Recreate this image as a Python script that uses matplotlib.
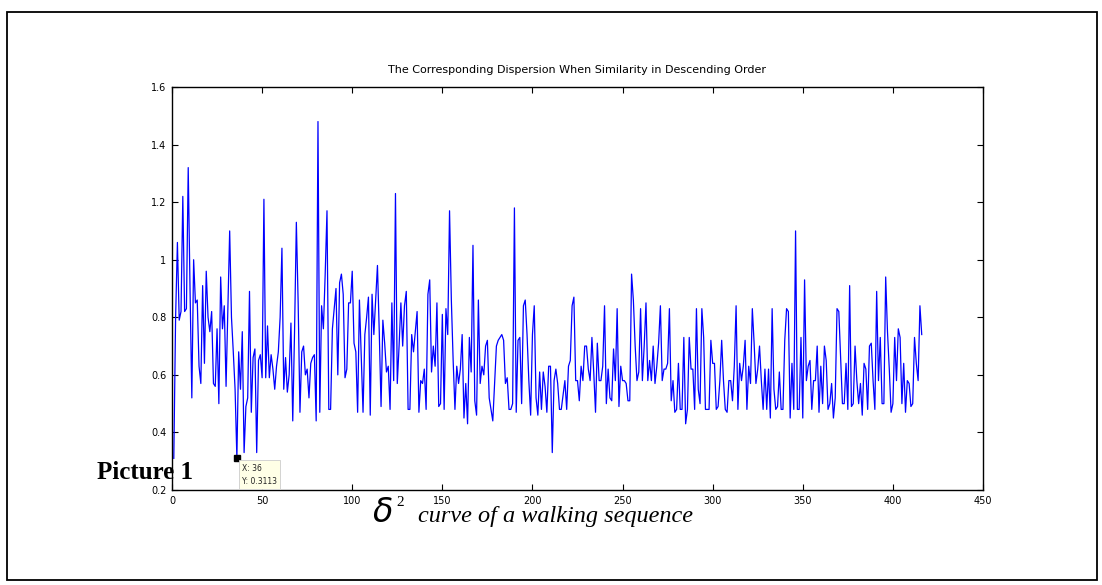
import numpy as np
import matplotlib
matplotlib.use("Agg")
import matplotlib.pyplot as plt
from matplotlib.patches import Rectangle

# dispersion values (index 1..416)
seg1 = [0.31, 0.80, 1.06, 0.79, 0.82, 1.22, 0.82, 0.83, 1.32, 0.90,
        0.52, 1.00, 0.85, 0.86, 0.63, 0.57, 0.91, 0.64, 0.96, 0.80,
        0.75, 0.82, 0.57, 0.56, 0.76, 0.50, 0.94, 0.76, 0.84, 0.56,
        0.83, 1.10, 0.80, 0.68, 0.55, 0.3113, 0.68, 0.55, 0.75, 0.33,
        0.49, 0.52, 0.89, 0.47, 0.66, 0.69, 0.33, 0.65, 0.67, 0.59, 1.21]
seg2 = [0.59, 0.77, 0.59, 0.67, 0.62, 0.55, 0.63, 0.68, 0.80, 1.04,
        0.55, 0.66, 0.54, 0.60, 0.78, 0.44, 0.75, 1.13, 0.85, 0.47,
        0.68, 0.70, 0.60, 0.62, 0.52, 0.64, 0.66, 0.67, 0.44, 1.48,
        0.47, 0.84, 0.76, 0.95, 1.17, 0.48, 0.48, 0.76, 0.83, 0.90,
        0.60, 0.92, 0.95, 0.88, 0.59, 0.62, 0.85, 0.85, 0.96, 0.71,
        0.68, 0.47, 0.86, 0.66, 0.47, 0.74, 0.80, 0.87, 0.46]
seg3 = [0.88, 0.74, 0.86, 0.98, 0.75, 0.49, 0.79, 0.71, 0.61, 0.63,
        0.48, 0.85, 0.58, 1.23, 0.57, 0.70, 0.85, 0.70, 0.84, 0.89,
        0.48, 0.48, 0.74, 0.68, 0.75, 0.82, 0.47, 0.58, 0.57, 0.62,
        0.48, 0.88, 0.93, 0.61, 0.70, 0.63, 0.85, 0.49, 0.50, 0.81,
        0.48, 0.83, 0.74, 1.17, 0.86, 0.65, 0.48, 0.63, 0.57, 0.62,
        0.74, 0.45, 0.57, 0.43, 0.73]
seg4 = [0.61, 1.05, 0.51, 0.46, 0.86, 0.57, 0.63, 0.60, 0.70, 0.72,
        0.52, 0.48, 0.44, 0.57, 0.70, 0.72, 0.73, 0.74, 0.72, 0.57,
        0.59, 0.48, 0.48, 0.50, 1.18, 0.47, 0.72, 0.73, 0.50, 0.84,
        0.86, 0.74, 0.58, 0.46, 0.74, 0.84, 0.52, 0.46, 0.61, 0.48,
        0.61, 0.56, 0.47, 0.63, 0.63, 0.33, 0.58, 0.62, 0.57, 0.48,
        0.48, 0.53, 0.58, 0.48, 0.63]
seg5 = [0.65, 0.84, 0.87, 0.58, 0.58, 0.51, 0.63, 0.58, 0.70, 0.70,
        0.62, 0.58, 0.73, 0.61, 0.47, 0.71, 0.58, 0.58, 0.63, 0.84,
        0.50, 0.62, 0.52, 0.51, 0.69, 0.58, 0.83, 0.49, 0.63, 0.58,
        0.58, 0.57, 0.51, 0.51, 0.95, 0.86, 0.70, 0.58, 0.61, 0.83,
        0.58, 0.70, 0.85, 0.58, 0.65, 0.58, 0.70, 0.57, 0.63, 0.71,
        0.84, 0.58, 0.62, 0.62, 0.64, 0.83, 0.51]
seg6 = [0.58, 0.47, 0.48, 0.64, 0.48, 0.48, 0.73, 0.43, 0.48, 0.73,
        0.62, 0.62, 0.48, 0.83, 0.55, 0.50, 0.83, 0.73, 0.48, 0.48,
        0.48, 0.72, 0.64, 0.64, 0.48, 0.49, 0.58, 0.72, 0.58, 0.48,
        0.47, 0.58, 0.58, 0.51, 0.63, 0.84, 0.48, 0.64, 0.58, 0.63,
        0.72, 0.48, 0.63, 0.57, 0.83, 0.71, 0.57, 0.62, 0.70, 0.58,
        0.48, 0.62, 0.48, 0.62, 0.45]
seg7 = [0.83, 0.55, 0.48, 0.49, 0.61, 0.48, 0.48, 0.72, 0.83, 0.82,
        0.45, 0.64, 0.48, 1.10, 0.48, 0.48, 0.73, 0.45, 0.93, 0.58,
        0.63, 0.65, 0.48, 0.58, 0.58, 0.70, 0.47, 0.63, 0.50, 0.70,
        0.65, 0.48, 0.50, 0.57, 0.45, 0.52, 0.83, 0.82, 0.66, 0.50,
        0.50, 0.64, 0.48, 0.91, 0.49, 0.50, 0.70, 0.58, 0.50, 0.57,
        0.46, 0.64, 0.62, 0.48, 0.70, 0.71]
seg8 = [0.58, 0.48, 0.89, 0.58, 0.73, 0.50, 0.50, 0.94, 0.75, 0.62,
        0.47, 0.50, 0.73, 0.58, 0.76, 0.73, 0.50, 0.64, 0.47, 0.58,
        0.57, 0.49, 0.50, 0.73, 0.64, 0.58, 0.84, 0.74]

dispersion = seg1 + seg2 + seg3 + seg4 + seg5 + seg6 + seg7 + seg8
index = np.arange(1, len(dispersion) + 1)

tip_x = 36
tip_y = 0.3113

xticks = [0, 50, 100, 150, 200, 250, 300, 350, 400, 450]
yticks = [0.2, 0.4, 0.6, 0.8, 1.0, 1.2, 1.4, 1.6]
ylabels = ['0.2', '0.4', '0.6', '0.8', '1', '1.2', '1.4', '1.6']

W, H = 1102, 585
fig = plt.figure(figsize=(W / 100, H / 100), dpi=100)

# outer frame of the picture
fig.patches.append(Rectangle((7 / W, 1 - 580 / H), 1090 / W, 568 / H,
                             transform=fig.transFigure, fill=False,
                             edgecolor='black', linewidth=1.3))

ax = fig.add_axes([172 / W, 1 - 490 / H, (983 - 172) / W, (490 - 87) / H])
ax.plot(index, dispersion, color='#0000ff', linewidth=0.9)
ax.set_xlim(0, 450)
ax.set_ylim(0.2, 1.6)
ax.set_xticks(xticks)
ax.set_yticks(yticks)
ax.set_yticklabels(ylabels)
ax.tick_params(direction='in', top=True, right=True, length=4, width=0.8,
               labelsize=7, pad=4)
for s in ax.spines.values():
    s.set_linewidth(1.0)
ax.set_title('The Corresponding Dispersion When Similarity in Descending Order',
             fontsize=8, pad=10)

# data tip
ax.plot([tip_x], [tip_y], marker='s', color='black', markersize=4)
ax.annotate('X: 36\nY: 0.3113', xy=(tip_x, tip_y), xytext=(4, -4),
            textcoords='offset points', fontsize=5.5, va='top', ha='left',
            linespacing=1.6, color='#222222',
            bbox=dict(boxstyle='square,pad=0.4', fc='#ffffe6', ec='#cccccc', lw=0.6))

fig.text(97 / W, 1 - 479 / H, 'Picture 1', fontsize=18, fontweight='bold',
         family='Liberation Serif', va='baseline')
fig.text(372 / W, 1 - 522 / H, r'$\delta$', fontsize=24, ha='left', va='baseline')
fig.text(396 / W, 1 - 506 / H, '2', fontsize=11, family='Liberation Serif',
         ha='left', va='baseline')
fig.text(418 / W, 1 - 522 / H, 'curve of a walking sequence',
         fontsize=17.5, style='italic', family='Liberation Serif',
         ha='left', va='baseline')

fig.savefig('out.png', dpi=100)
